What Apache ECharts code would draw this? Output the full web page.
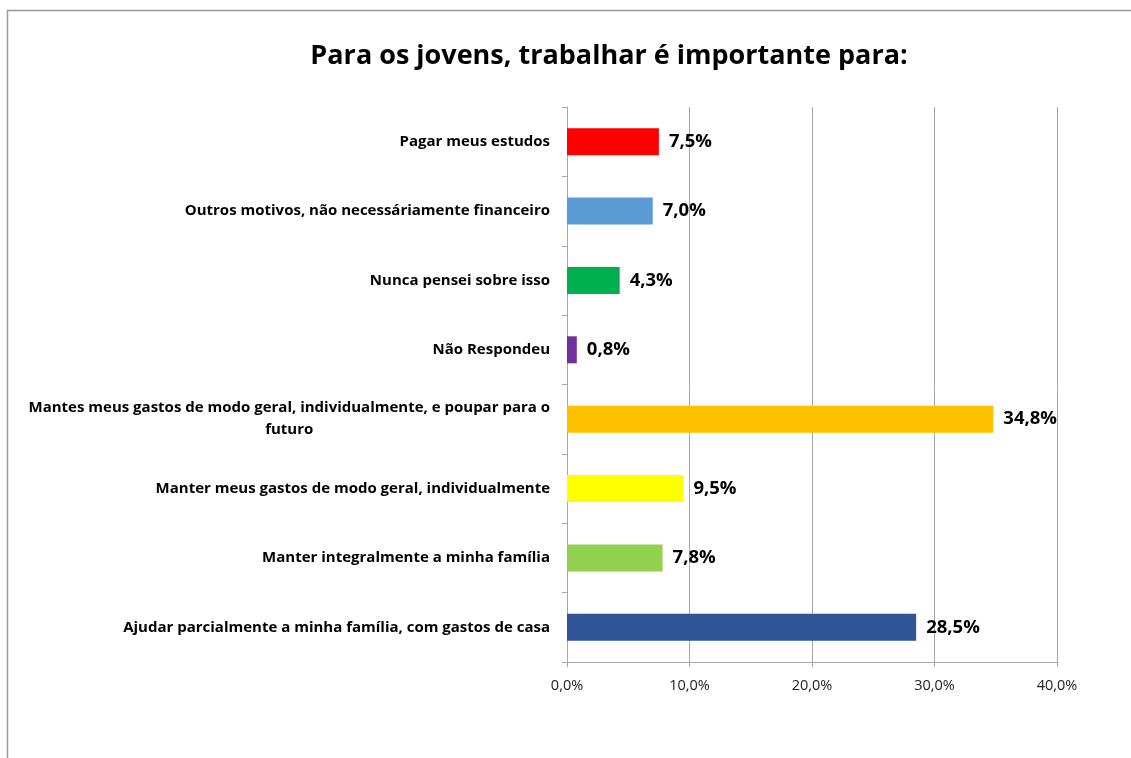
<!DOCTYPE html>
<html>
<head>
<meta charset="utf-8">
<script src="https://cdn.jsdelivr.net/npm/echarts@6/dist/echarts.min.js"></script>
<style>
html,body{margin:0;padding:0;background:#fff;}
#chart{width:1131px;height:758px;}
</style>
</head>
<body>
<div id="chart"></div>
<script>
const titleText = 'Para os jovens, trabalhar é importante para:';
const categories = [
  'Ajudar parcialmente a minha família, com gastos de casa',
  'Manter integralmente a minha família',
  'Manter meus gastos de modo geral, individualmente',
  'Mantes meus gastos de modo geral, individualmente, e poupar para o\nfuturo',
  'Não Respondeu',
  'Nunca pensei sobre isso',
  'Outros motivos, não necessáriamente financeiro',
  'Pagar meus estudos'
];
const values = [28.5, 7.8, 9.5, 34.8, 0.8, 4.3, 7.0, 7.5];
const colors = ['#2F5597', '#92D050', '#FFFF00', '#FFC000', '#7030A0', '#00B050', '#5B9BD5', '#FF0000'];
const xTicks = [0, 10, 20, 30, 40];

const FONT = 'Open Sans';
const fmt = v => v.toFixed(1).replace('.', ',') + '%';

const chart = echarts.init(document.getElementById('chart'), null, {renderer: 'canvas'});
chart.setOption({
  animation: false,
  backgroundColor: '#fff',
  title: {
    text: titleText,
    left: 604,
    textAlign: 'center',
    top: 38,
    textStyle: {fontFamily: FONT, fontWeight: 'bold', fontSize: 27, color: '#000'}
  },
  graphic: [{
    type: 'polyline',
    shape: {points: [[7.5, 760], [7.5, 10.5], [1135, 10.5]]},
    style: {stroke: '#999', lineWidth: 1.5, fill: null},
    silent: true
  }],
  grid: {left: 567, right: 74, top: 107, bottom: 96, containLabel: false},
  xAxis: {
    type: 'value',
    min: xTicks[0],
    max: xTicks[xTicks.length - 1],
    interval: 10,
    axisLine: {show: true, lineStyle: {color: '#A6A6A6', width: 1}},
    axisTick: {show: true, inside: false, length: 5, lineStyle: {color: '#A6A6A6'}},
    splitLine: {show: true, lineStyle: {color: '#A6A6A6', width: 1}},
    axisLabel: {
      formatter: v => fmt(v),
      fontFamily: FONT, fontSize: 14.5, color: '#222', margin: 16
    }
  },
  yAxis: {
    type: 'category',
    data: categories,
    axisLine: {show: true, lineStyle: {color: '#A6A6A6', width: 1}},
    axisTick: {show: true, length: 5, lineStyle: {color: '#A6A6A6'}},
    splitLine: {show: false},
    axisLabel: {
      margin: 17,
      align: 'right',
      fontFamily: FONT, fontWeight: 'bold', fontSize: 15, color: '#000', lineHeight: 22,
      formatter: function (v) {
        const lines = v.split('\n');
        if (lines.length === 1) return '{r|' + v + '}';
        return '{r|' + lines[0] + '}\n{c|' + lines[1] + '}';
      },
      rich: {
        r: {fontFamily: FONT, fontWeight: 'bold', fontSize: 15, color: '#000', lineHeight: 22},
        c: {fontFamily: FONT, fontWeight: 'bold', fontSize: 15, color: '#000', lineHeight: 22, align: 'center'}
      }
    }
  },
  series: [{
    type: 'bar',
    data: values.map((v, i) => ({value: v, itemStyle: {color: colors[i]}})),
    barWidth: 27,
    label: {
      show: true,
      position: 'right',
      distance: 10,
      formatter: p => fmt(p.value),
      fontFamily: FONT, fontWeight: 'bold', fontSize: 18.5, color: '#000'
    }
  }]
});
</script>
</body>
</html>
